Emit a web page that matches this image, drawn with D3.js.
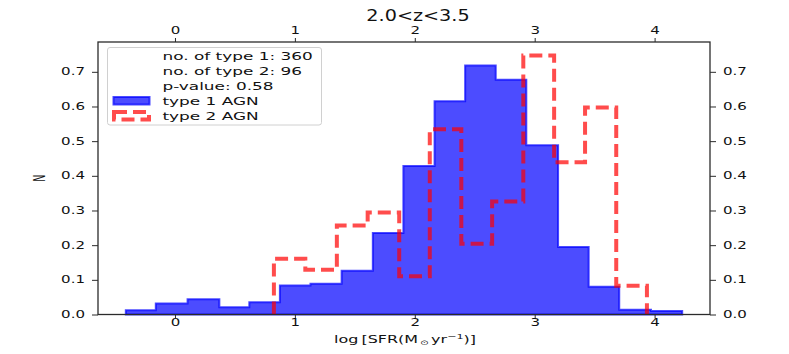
<!DOCTYPE html>
<html>
<head>
<meta charset="utf-8">
<script src="https://cdn.jsdelivr.net/npm/d3@7"></script>
<style>
  body { margin: 0; background: #fff; }
  svg { font-family: "DejaVu Sans", sans-serif; }
</style>
</head>
<body>
<svg id="chart" width="789" height="354"></svg>
<script>

// type 1 AGN, filled histogram (bin edges + heights)
const type1Edges = [-0.41, -0.16, 0.105, 0.37, 0.62, 0.875, 1.13, 1.39, 1.65, 1.905, 2.165, 2.42, 2.675, 2.93, 3.195, 3.45, 3.705, 3.97, 4.23]
const type1Values = [0.012, 0.032, 0.044, 0.021, 0.035, 0.084, 0.089, 0.126, 0.235, 0.428, 0.615, 0.718, 0.677, 0.488, 0.195, 0.080, 0.014, 0.010]

// type 2 AGN, dashed step histogram
const type2Edges = [0.825, 1.087, 1.35, 1.607, 1.87, 2.125, 2.388, 2.645, 2.905, 3.162, 3.42, 3.68, 3.936]
const type2Values = [0.161, 0.129, 0.257, 0.294, 0.110, 0.534, 0.204, 0.326, 0.747, 0.439, 0.597, 0.083]

const xTicks = [0, 1, 2, 3, 4]
const yTicks = [0, 0.1, 0.2, 0.3, 0.4, 0.5, 0.6, 0.7]
const legendInfo = ["no. of type 1: 360", "no. of type 2: 96", "p-value: 0.58"]
const seriesNames = ["type 1 AGN", "type 2 AGN"]
const titleText = "2.0<z<3.5"

// the source picture is squashed vertically, so text gets stretched sideways
const sx = 1.55

const blue = "rgba(0,0,255,0.7)"
const red = "rgba(255,0,0,0.7)"
const ink = "#2b2b2b"

let svg = d3.select("#chart")

let x = d3.scaleLinear().domain([-0.642, 4.462]).range([98, 710])
let y = d3.scaleLinear().domain([0, 0.786]).range([314.5, 42])

function stepPoints(edges, values, closed) {
    let pts = [[edges[0], 0]]
    for (let i = 0; i < values.length; i++) {
        pts.push([edges[i], values[i]])
        pts.push([edges[i + 1], values[i]])
    }
    pts.push([edges[edges.length - 1], 0])
    if (closed) pts.push([edges[0], 0])
    return pts
}

let line = d3.line().x(d => x(d[0])).y(d => y(d[1]))

// histograms
svg.append("path")
    .attr("d", line(stepPoints(type1Edges, type1Values, true)) + "Z")
    .attr("fill", blue)
    .attr("stroke", blue)
    .attr("stroke-width", 2)
    .attr("stroke-linejoin", "miter")

svg.append("path")
    .attr("d", line(stepPoints(type2Edges, type2Values, false)))
    .attr("fill", "none")
    .attr("stroke", red)
    .attr("stroke-width", 4)
    .attr("stroke-dasharray", "13,6")

// axes
function styleAxis(g) {
    g.select(".domain").remove()
    g.selectAll(".tick line").attr("stroke", ink).attr("stroke-width", 1)
    g.selectAll(".tick text").attr("fill", "#111").attr("font-size", 9.7)
        .attr("font-family", "DejaVu Sans")
}

let xBottom = svg.append("g").attr("transform", `translate(0,${y(0)})`)
    .call(d3.axisBottom(x).tickValues(xTicks).tickSize(4).tickFormat(d3.format("d")))
    .call(styleAxis)
xBottom.selectAll(".tick text").attr("y", 5).attr("transform", `scale(${sx},1)`)

let xTop = svg.append("g").attr("transform", `translate(0,${y.range()[1]})`)
    .call(d3.axisTop(x).tickValues(xTicks).tickSize(4).tickFormat(d3.format("d")))
    .call(styleAxis)
xTop.selectAll(".tick text").attr("y", -8).attr("transform", `scale(${sx},1)`)

let yLeft = svg.append("g").attr("transform", `translate(${x.range()[0]},0)`)
    .call(d3.axisLeft(y).tickValues(yTicks).tickSize(6).tickFormat(d3.format(".1f")))
    .call(styleAxis)
yLeft.selectAll(".tick text").attr("x", -13 / sx).attr("transform", `scale(${sx},1)`)

let yRight = svg.append("g").attr("transform", `translate(${x.range()[1]},0)`)
    .call(d3.axisRight(y).tickValues(yTicks).tickSize(6).tickFormat(d3.format(".1f")))
    .call(styleAxis)
yRight.selectAll(".tick text").attr("x", 13 / sx).attr("transform", `scale(${sx},1)`)

// frame
svg.append("rect")
    .attr("x", x.range()[0]).attr("y", y.range()[1])
    .attr("width", x.range()[1] - x.range()[0])
    .attr("height", y.range()[0] - y.range()[1])
    .attr("fill", "none").attr("stroke", ink).attr("stroke-width", 1.3)

// title and axis labels
svg.append("text")
    .attr("transform", `translate(418,20.5) scale(1.28,1)`)
    .attr("text-anchor", "middle").attr("font-size", 15).attr("fill", "#111")
    .text(titleText)

svg.append("text")
    .attr("transform", `translate(45,178) scale(${sx},1) rotate(-90)`)
    .attr("text-anchor", "middle").attr("font-size", 9.7).attr("fill", "#111")
    .text("N")

let xl = svg.append("text")
    .attr("transform", `translate(405,343) scale(${sx},1)`)
    .attr("text-anchor", "middle").attr("font-size", 10.3).attr("fill", "#111")
xl.append("tspan").text("log\u2009[SFR(M")
xl.append("tspan").attr("font-size", 6.8).attr("dy", 2).text("\u2009\u2299\u2009")
xl.append("tspan").attr("dy", -2).text("yr")
xl.append("tspan").attr("font-size", 7.2).attr("dy", -4).text("\u22121")
xl.append("tspan").attr("dy", 4).text(")]")

// legend
let legend = svg.append("g")
legend.append("rect")
    .attr("x", 107.5).attr("y", 47.5).attr("width", 214).attr("height", 77.5)
    .attr("rx", 2.5).attr("fill", "rgba(255,255,255,0.8)")
    .attr("stroke", "#d0d0d0").attr("stroke-width", 1)

let rowY = [56, 71.3, 86.5, 101, 116]
let rows = legendInfo.concat(seriesNames)
legend.selectAll("text.row").data(rows).join("text")
    .attr("class", "row")
    .attr("transform", (d, i) => `translate(162.5,${rowY[i] + 3.8}) scale(${sx},1)`)
    .attr("font-size", 10.9).attr("fill", "#111")
    .text(d => d)

legend.append("rect")
    .attr("x", 113.5).attr("y", 97).attr("width", 36).attr("height", 7.5)
    .attr("fill", blue).attr("stroke", blue).attr("stroke-width", 2)

legend.append("rect")
    .attr("x", 114).attr("y", 112).attr("width", 35).attr("height", 7.5)
    .attr("fill", "none").attr("stroke", red).attr("stroke-width", 4)
    .attr("stroke-dasharray", "13,6")

</script>
</body>
</html>
